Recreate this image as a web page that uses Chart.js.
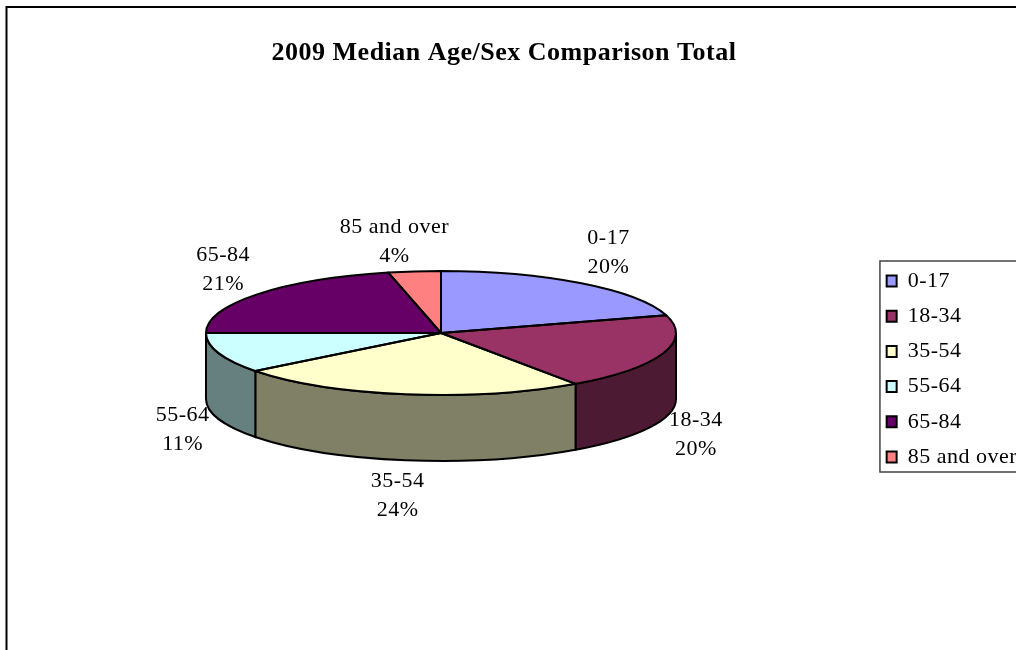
<!DOCTYPE html>
<html>
<head>
<meta charset="utf-8">
<title>2009 Median Age/Sex Comparison Total</title>
<style>
    html, body { margin: 0; padding: 0; background: #fff; overflow: hidden; }
    canvas { display: block; }
</style>
</head>
<body>
<canvas id="pie-chart" width="1016" height="650"></canvas>
<script src="https://cdn.jsdelivr.net/npm/chart.js@4"></script>
<script>
    "use strict";

    var titleText = "2009 Median Age/Sex Comparison Total";
    var ageGroups = ["0-17", "18-34", "35-54", "55-64", "65-84", "85 and over"];
    var sharePercent = [20.4, 19.9, 24.2, 10.5, 21.4, 3.6];

    var topColors = ["#9999FF", "#993366", "#FFFFCC", "#CCFFFF", "#660066", "#FF8080"];
    var sideColors = ["#4D4D80", "#4D1A33", "#808066", "#668080", "#330033", "#804040"];
    // label centre, relative to the rim point in the middle of each slice
    var labelShift = [[27, -31], [33, 81], [-8, 101], [-36, 77], [-34, -25], [-20, -30]];

    var fontName = "'Liberation Serif', serif";
    var spacing = "0.5px";

    // the flat pie is squashed into an ellipse
    var pieX = 441, pieY = 333, pieRadius = 235, pieRadiusY = 62, pieDepth = 66;

    // 3D pie: side walls first, then the library's arcs squashed, then outlines
    var pie3d = {
        id: "pie3d",
        beforeLayout: function (chart) {
            // chart.js resets the canvas on resize, so the spacing goes here
            chart.ctx.letterSpacing = spacing;
        },
        beforeDraw: function (chart) {
            var ctx = chart.ctx;
            ctx.letterSpacing = spacing;
            ctx.save();
            ctx.strokeStyle = "#000";
            ctx.lineWidth = 2;
            ctx.beginPath();
            ctx.moveTo(6.5, 650);
            ctx.lineTo(6.5, 7);
            ctx.lineTo(1016, 7);
            ctx.stroke();
            ctx.restore();
        },
        beforeDatasetsDraw: function (chart) {
            var ctx = chart.ctx;
            var arcs = chart.getDatasetMeta(0).data;
            ctx.save();
            ctx.strokeStyle = "#000";
            ctx.lineWidth = 2;
            arcs.forEach(function (arc, i) {
                var a1 = Math.max(arc.startAngle, 0);
                var a2 = Math.min(arc.endAngle, Math.PI);
                if (a2 <= a1) return;
                ctx.beginPath();
                ctx.ellipse(pieX, pieY, pieRadius, pieRadiusY, 0, a1, a2);
                ctx.ellipse(pieX, pieY + pieDepth, pieRadius, pieRadiusY, 0, a2, a1, true);
                ctx.closePath();
                ctx.fillStyle = sideColors[i];
                ctx.fill();
                ctx.stroke();
            });
            ctx.restore();

            ctx.save();
            var first = arcs[0];
            ctx.translate(pieX, pieY);
            ctx.scale(1, pieRadiusY / pieRadius);
            ctx.translate(-first.x, -first.y);
        },
        afterDatasetsDraw: function (chart) {
            var ctx = chart.ctx;
            ctx.restore();

            var arcs = chart.getDatasetMeta(0).data;
            ctx.save();
            ctx.strokeStyle = "#000";
            ctx.lineWidth = 2;
            ctx.lineJoin = "round";
            arcs.forEach(function (arc) {
                ctx.beginPath();
                ctx.moveTo(pieX, pieY);
                ctx.ellipse(pieX, pieY, pieRadius, pieRadiusY, 0, arc.startAngle, arc.endAngle);
                ctx.closePath();
                ctx.stroke();
            });
            ctx.restore();

            // data labels
            ctx.save();
            ctx.fillStyle = "#000";
            ctx.font = "22px " + fontName;
            ctx.textAlign = "center";
            ctx.textBaseline = "middle";
            arcs.forEach(function (arc, i) {
                var mid = (arc.startAngle + arc.endAngle) / 2;
                var x = pieX + pieRadius * Math.cos(mid) + labelShift[i][0];
                var y = pieY + pieRadiusY * Math.sin(mid) + labelShift[i][1];
                ctx.fillText(ageGroups[i], x, y - 14.5);
                ctx.fillText(Math.round(sharePercent[i]) + "%", x, y + 14.5);
            });
            ctx.restore();
        },
        afterDraw: function (chart) {
            // legend frame runs off the right edge of the page
            var boxes = chart.legend.legendHitBoxes;
            var last = boxes[boxes.length - 1];
            var frameX = chart.legend.left + 6.5;
            var ctx = chart.ctx;
            ctx.save();
            ctx.strokeStyle = "#444";
            ctx.lineWidth = 1.5;
            ctx.beginPath();
            ctx.moveTo(1016, boxes[0].top - 9);
            ctx.lineTo(frameX, boxes[0].top - 9);
            ctx.lineTo(frameX, last.top + last.height + 4);
            ctx.lineTo(1016, last.top + last.height + 4);
            ctx.stroke();
            ctx.restore();
        }
    };

    var ctx1 = document.getElementById("pie-chart").getContext("2d");

    var myChart = new Chart(ctx1, {
        type: "pie",
        plugins: [pie3d],
        data: {
            labels: ageGroups,
            datasets: [{
                data: sharePercent,
                backgroundColor: topColors,
                borderWidth: 0,
                radius: pieRadius
            }]
        },
        options: {
            responsive: false,
            animation: false,
            layout: { padding: { left: -19, right: -11 } },
            plugins: {
                tooltip: { enabled: false },
                title: {
                    display: true,
                    text: titleText,
                    color: "#000",
                    font: { family: fontName, size: 26, weight: "bold", lineHeight: 1 },
                    padding: { top: 40, bottom: 22 }
                },
                legend: {
                    position: "right",
                    fullSize: false,
                    labels: {
                        color: "#000",
                        font: { family: fontName, size: 22, lineHeight: 1.2 },
                        boxWidth: 10,
                        boxHeight: 11,
                        padding: 13.2,
                        generateLabels: function (chart) {
                            var base = Chart.overrides.pie.plugins.legend.labels.generateLabels(chart);
                            return base.map(function (item) {
                                item.strokeStyle = "#000";
                                item.lineWidth = 2;
                                return item;
                            });
                        }
                    }
                }
            }
        }
    });
</script>
</body>
</html>
